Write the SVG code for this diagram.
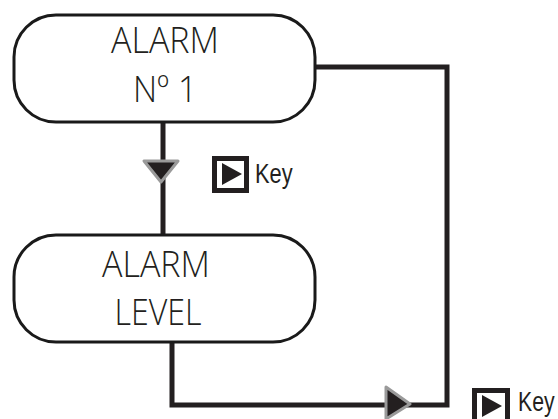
<svg xmlns="http://www.w3.org/2000/svg" width="558" height="419" viewBox="0 0 558 419">
<defs>
<style>
.node{fill:#fff;stroke:#1a1a1a;stroke-width:3}
.lbl{font-family:"Open Sans","Liberation Sans",Arial,sans-serif;font-weight:300;font-size:37px;fill:#231f20;text-anchor:middle}
.key{font-family:"Liberation Sans",Arial,sans-serif;font-size:28px;fill:#231f20}
.wire{fill:none;stroke:#231f20;stroke-width:5;stroke-linejoin:miter}
.tri{fill:#231f20;stroke:#9a9a9a;stroke-width:3;stroke-linejoin:round}
.kbox{fill:#fff;stroke:#231f20;stroke-width:5}
</style>
</defs>
<g id="connectors">
<path class="wire" d="M163 122 V236"/>
<path class="wire" d="M314 67 H447 V405 H172 V342"/>
<polygon class="tri" points="144,161 178,161 161,182"/>
<polygon class="tri" points="386,387 386,419 410,404"/>
</g>
<g id="node1">
<rect class="node" x="14" y="15" width="301" height="107" rx="42"/>
<text class="lbl" x="165" y="53" textLength="108" lengthAdjust="spacingAndGlyphs">ALARM</text>
<text class="lbl" x="165" y="102" textLength="64" lengthAdjust="spacingAndGlyphs">Nº 1</text>
</g>
<g id="node2">
<rect class="node" x="14" y="235" width="301" height="107" rx="42"/>
<text class="lbl" x="156" y="277" textLength="108" lengthAdjust="spacingAndGlyphs">ALARM</text>
<text class="lbl" x="158" y="325" textLength="87" lengthAdjust="spacingAndGlyphs">LEVEL</text>
</g>
<g id="key1">
<rect class="kbox" x="214.5" y="158.5" width="32" height="32"/>
<polygon points="222,163 222,185 242,174" fill="#231f20"/>
<text class="key" transform="translate(255,183) scale(0.78,1)">Key</text>
</g>
<g id="key2">
<rect class="kbox" x="474.5" y="390.5" width="33" height="32"/>
<polygon points="482,395 482,417 502,406" fill="#231f20"/>
<text class="key" transform="translate(518,411) scale(0.76,1)">Key</text>
</g>
</svg>
